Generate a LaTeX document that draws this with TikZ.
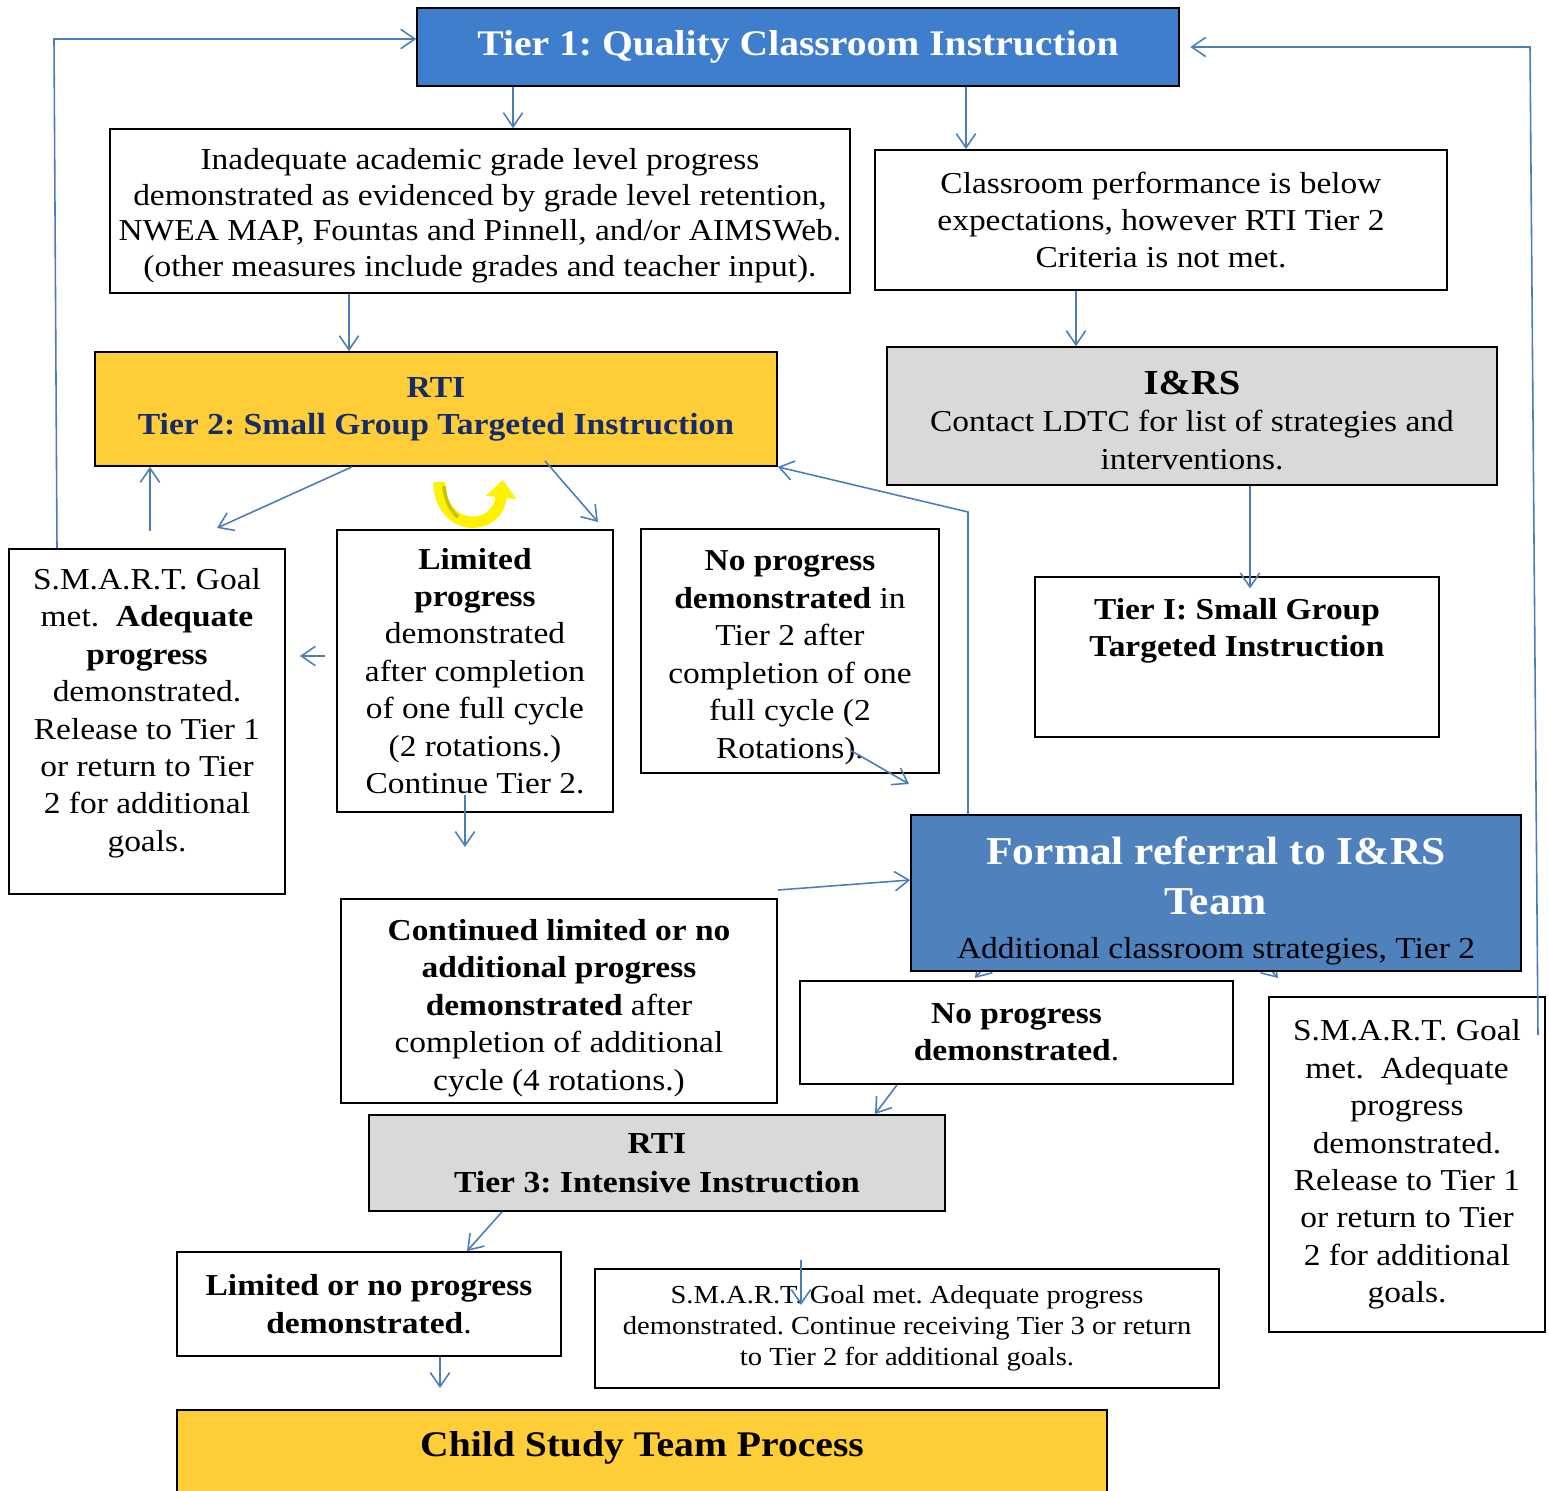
\documentclass[tikz,border=0pt]{standalone}
\usepackage{fontspec}
\setmainfont{Liberation Serif}[FakeStretch=1.1]
\usepackage{color}
\usetikzlibrary{arrows.meta}
\frenchspacing

\definecolor{tierblue}{RGB}{62,126,204}
\definecolor{refblue}{RGB}{79,129,189}
\definecolor{rtiyellow}{RGB}{254,205,55}
\definecolor{boxgray}{RGB}{217,217,217}
\definecolor{navy}{RGB}{22,44,104}
\definecolor{arcblue}{RGB}{74,126,187}
\definecolor{olive}{RGB}{196,196,0}

\newcommand{\txt}{\fontsize{17.3}{21.3}\selectfont}
\newcommand{\smalltxt}{\fontsize{14.8}{17.6}\selectfont}
\newcommand{\headtxt}{\fontsize{20.5}{26}\selectfont\bfseries}
\newcommand{\reftxt}{\fontsize{22.5}{28.4}\selectfont\bfseries}
\newcommand{\drop}[1]{\rule{0pt}{#1}}

\begin{document}
\begin{tikzpicture}[x=0.02cm,y=-0.02cm]
  \useasboundingbox (0,0) rectangle (1549,1491);

  \tikzset{flow arc/.style={-{Straight Barb[length=8pt,width=11pt]}, arcblue, line width=0.9pt}}

  % these two run behind the referral box
  \coordinate (c23) at (1030,915);
  \coordinate (c24) at (975,978);
  \coordinate (c25) at (1240,935);
  \coordinate (c26) at (1278,978);
  \draw[flow arc] (c23) -- (c24);
  \draw[flow arc] (c25) -- (c26);

  \begin{scope}[every node/.style={draw,line width=1pt,align=center,inner sep=0pt,font=\txt}]
      \node[fill=tierblue,text=white,font=\headtxt,minimum width=15.24cm,minimum height=1.56cm] (t1) at (798,47) {Tier 1: Quality Classroom Instruction};

      \node[minimum width=14.8cm,minimum height=3.28cm,font=\fontsize{17.3}{20.2}\selectfont] (inad) at (480,211)
        {\drop{17.5pt}Inadequate academic grade level progress\\demonstrated as evidenced by grade level retention,\\NWEA MAP, Fountas and Pinnell, and/or AIMSWeb.\\(other measures include grades and teacher input).};
      \node[minimum width=11.44cm,minimum height=2.8cm] (perf) at (1161,220)
        {Classroom performance is below\\expectations, however RTI Tier 2\\Criteria is not met.};

      \node[fill=rtiyellow,text=navy,minimum width=13.64cm,minimum height=2.28cm,font=\fontsize{17.4}{21}\selectfont\bfseries] (t2) at (436,409)
        {RTI\\Tier 2: Small Group Targeted Instruction};
      \node[fill=boxgray,minimum width=12.2cm,minimum height=2.76cm] (irs) at (1192,416)
        {\drop{18pt}\fontsize{20}{22}\selectfont\bfseries I\&RS\\Contact LDTC for list of strategies and\\interventions.};

      \node[minimum width=8.08cm,minimum height=3.2cm,font=\txt\bfseries] (sg) at (1237,657)
        {Tier I: Small Group\\Targeted Instruction\\[6pt]\strut};

      \node[minimum width=5.52cm,minimum height=6.9cm] (sml) at (147,721.5)
        {S.M.A.R.T. Goal\\met.\ \ \textbf{Adequate}\\\textbf{progress}\\demonstrated.\\Release to Tier 1\\or return to Tier\\2 for additional\\goals.\\[-8pt]};
      \node[minimum width=5.52cm,minimum height=5.64cm] (lim) at (475,671)
        {\textbf{Limited}\\\textbf{progress}\\demonstrated\\after completion\\of one full cycle\\(2 rotations.)\\Continue Tier 2.};
      \node[minimum width=5.96cm,minimum height=4.88cm] (nop) at (790,651)
        {\drop{19pt}\textbf{No progress}\\\textbf{demonstrated} in\\Tier 2 after\\completion of one\\full cycle (2\\Rotations).};

      \node[fill=refblue,text=white,font=\reftxt,minimum width=12.2cm,minimum height=3.12cm] (ref) at (1216,893)
        {\drop{25pt}Formal referral to I\&RS\\Team\\[-3.4pt]\txt\mdseries\color{black}Additional classroom strategies, Tier 2};

      \node[minimum width=8.72cm,minimum height=4.08cm] (cont) at (559,1001)
        {\drop{20pt}\textbf{Continued limited or no}\\\textbf{additional progress}\\\textbf{demonstrated} after\\completion of additional\\cycle (4 rotations.)};
      \node[minimum width=8.66cm,minimum height=2.06cm,font=\txt\bfseries] (nopd) at (1016.5,1032.5)
        {No progress\\demonstrated\textmd{.}};
      \node[minimum width=5.52cm,minimum height=6.7cm] (smr) at (1407,1164.5)
        {S.M.A.R.T. Goal\\met.\ \ Adequate\\progress\\demonstrated.\\Release to Tier 1\\or return to Tier\\2 for additional\\goals.};

      \node[fill=boxgray,minimum width=11.52cm,minimum height=1.92cm,font=\fontsize{17.4}{22}\selectfont\bfseries] (t3) at (657,1163)
        {RTI\\Tier 3: Intensive Instruction};
      \node[minimum width=7.68cm,minimum height=2.08cm,font=\txt\bfseries] (lnp) at (369,1304)
        {Limited or no progress\\demonstrated\textmd{.}};
      \node[minimum width=12.48cm,minimum height=2.38cm,font=\smalltxt] (smb) at (907,1328.5)
        {S.M.A.R.T. Goal met. Adequate progress\\demonstrated. Continue receiving Tier 3 or return\\to Tier 2 for additional goals.};

      \node[fill=rtiyellow,minimum width=18.6cm,minimum height=1.8cm,font=\fontsize{20.5}{24}\selectfont\bfseries] (cst) at (642,1455)
        {\raisebox{12.5pt}{Child Study Team Process}};
  \end{scope}

  \coordinate (c1) at (513,0);
  \coordinate (c2) at (966,0);
  \coordinate (c3) at (349,0);
  \coordinate (c4) at (1076,0);
  \coordinate (c5) at (1250,0);
  \coordinate (c6) at (57,0);
  \coordinate (c7) at (54,39);
  \coordinate (c8) at (1538,1035);
  \coordinate (c9) at (1530,47);
  \coordinate (c10) at (150,531);
  \coordinate (c11) at (352,0);
  \coordinate (c12) at (217,528);
  \coordinate (c13) at (545,461);
  \coordinate (c14) at (598,522);
  \coordinate (c15) at (325,656);
  \coordinate (c16) at (465,795);
  \coordinate (c17) at (465,847);
  \coordinate (c18) at (850,750);
  \coordinate (c19) at (909,784);
  \coordinate (c20) at (968,512);
  \coordinate (c21) at (778,890);
  \coordinate (c22) at (0,880);
  \coordinate (c27) at (897,0);
  \coordinate (c28) at (875,0);
  \coordinate (c29) at (502,0);
  \coordinate (c30) at (467,0);
  \coordinate (c31) at (440,1388);
  \coordinate (c32) at (801,1260);
  \coordinate (c33) at (801,1305);

  \draw[flow arc] (c1 |- t1.south) -- (c1 |- inad.north);
  \draw[flow arc] (c2 |- t1.south) -- (c2 |- perf.north);
  \draw[flow arc] (c3 |- inad.south) -- (c3 |- t2.north);
  \draw[flow arc] (c4 |- perf.south) -- (c4 |- irs.north);
  \draw[flow arc, shorten >=-7pt] (c5 |- irs.south) -- (c5 |- sg.north);

  \draw[flow arc] (c6 |- sml.north) -- (c7) -- (c7 -| t1.west);
  \draw[flow arc, shorten >=6pt] (c8) -- (c9) -- (c9 -| t1.east);

  \draw[flow arc] (c10) -- (c10 |- t2.south);
  \draw[flow arc] (c11 |- t2.south) -- (c12);
  \draw[flow arc] (c13) -- (c14);
  \draw[flow arc, shorten >=8pt] (c15) -- (c15 -| sml.east);
  \draw[flow arc] (c16) -- (c17);
  \draw[flow arc] (c18) -- (c19);
  \draw[flow arc] (c20 |- ref.north) -- (c20) -- (t2.south east);
  \draw[flow arc] (c21) -- (c22 -| ref.west);

  \draw[flow arc] (c27 |- nopd.south) -- (c28 |- t3.north);
  \draw[flow arc] (c29 |- t3.south) -- (c30 |- lnp.north);
  \draw[flow arc] (c31 |- lnp.south) -- (c31);
  \draw[flow arc] (c32) -- (c33);

  % yellow turn-around arrow
  \draw[yellow, line width=6.5pt, -{Triangle[length=10pt,width=17pt]}]
    (439,482) .. controls (440,532) and (497,534) .. (503,480);
  \draw[olive, line width=2pt] (444,486) .. controls (445,500) and (450,510) .. (458,517);
\end{tikzpicture}
\end{document}
